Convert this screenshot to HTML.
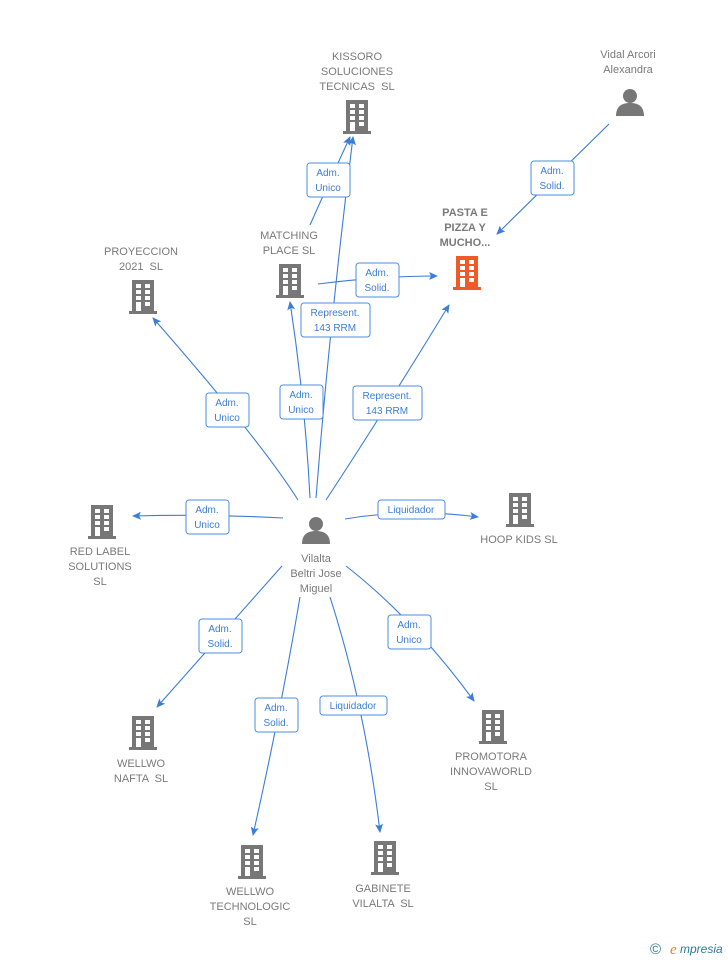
<!DOCTYPE html>
<html><head><meta charset="utf-8"><style>
html,body{margin:0;padding:0;background:#fff;}
svg{display:block;font-family:"Liberation Sans",Arial,sans-serif;}
text{white-space:pre;}
.n{fill:#7a7a7a;font-size:11px;text-anchor:middle;}
.b{fill:#7a7a7a;font-size:11px;text-anchor:middle;font-weight:bold;}
.l{fill:#3b7dd8;font-size:10px;text-anchor:middle;}
.e{stroke:#3b7dd8;stroke-width:1.1;fill:none;}
.bx{fill:#fff;stroke:#4a8ce0;stroke-width:1;}
</style></head><body>
<svg width="728" height="960" viewBox="0 0 728 960" xmlns="http://www.w3.org/2000/svg">
<defs>
<symbol id="bld" viewBox="-14 -18 28 36" overflow="visible">
<rect x="-11" y="-17" width="22" height="32" fill="currentColor"/>
<rect x="-14" y="14" width="28" height="3" fill="currentColor"/>
<g fill="#fff">
<rect x="-7" y="-13" width="5" height="4"/><rect x="2" y="-13" width="5" height="4"/>
<rect x="-7" y="-7" width="5" height="4"/><rect x="2" y="-7" width="5" height="4"/>
<rect x="-7" y="-1" width="5" height="4"/><rect x="2" y="-1" width="5" height="4"/>
<rect x="-7" y="5" width="5" height="9"/><rect x="2" y="5" width="5" height="4"/>
</g>
</symbol>
<symbol id="per" viewBox="-14 -15 28 30" overflow="visible">
<circle cx="0" cy="-6" r="7" fill="#777"/>
<path d="M-14 14 C-14 4 -8 1 0 1 C8 1 14 4 14 14 Z" fill="#777"/>
</symbol>
<marker id="ar" markerWidth="10" markerHeight="10" refX="8" refY="5" orient="auto" markerUnits="userSpaceOnUse">
<path d="M0 1 L9 5 L0 9 L2 5 Z" fill="#3b7dd8"/>
</marker>
</defs>

<path class="e" marker-end="url(#ar)" d="M298 500 Q260 440 153 318"/>
<path class="e" marker-end="url(#ar)" d="M310 498 Q305 400 290 302"/>
<path class="e" marker-end="url(#ar)" d="M316 498 Q330 320 353 137"/>
<path class="e" marker-end="url(#ar)" d="M310 225 Q330 180 350 137"/>
<path class="e" marker-end="url(#ar)" d="M318 284 Q380 276 437 276"/>
<path class="e" marker-end="url(#ar)" d="M326 500 Q385 410 449 305"/>
<path class="e" marker-end="url(#ar)" d="M609 124 L497 234"/>
<path class="e" marker-end="url(#ar)" d="M283 518 Q210 514 133 516"/>
<path class="e" marker-end="url(#ar)" d="M345 519 Q410 508 478 517"/>
<path class="e" marker-end="url(#ar)" d="M282 566 Q220 636 157 707"/>
<path class="e" marker-end="url(#ar)" d="M300 597 Q280 715 253 835"/>
<path class="e" marker-end="url(#ar)" d="M330 597 Q365 706 380 832"/>
<path class="e" marker-end="url(#ar)" d="M346 566 Q415 620 474 701"/>

<rect class="bx" x="206" y="393" width="43" height="34" rx="3"/><text class="l" x="227" y="406">Adm.</text><text class="l" x="227" y="421">Unico</text>
<rect class="bx" x="280" y="385" width="43" height="34" rx="3"/><text class="l" x="301" y="398">Adm.</text><text class="l" x="301" y="413">Unico</text>
<rect class="bx" x="353" y="386" width="69" height="34" rx="3"/><text class="l" x="387" y="399">Represent.</text><text class="l" x="387" y="414">143 RRM</text>
<rect class="bx" x="301" y="303" width="69" height="34" rx="3"/><text class="l" x="335" y="316">Represent.</text><text class="l" x="335" y="331">143 RRM</text>
<rect class="bx" x="307" y="163" width="43" height="34" rx="3"/><text class="l" x="328" y="176">Adm.</text><text class="l" x="328" y="191">Unico</text>
<rect class="bx" x="356" y="263" width="43" height="34" rx="3"/><text class="l" x="377" y="276">Adm.</text><text class="l" x="377" y="291">Solid.</text>
<rect class="bx" x="531" y="161" width="43" height="34" rx="3"/><text class="l" x="552" y="174">Adm.</text><text class="l" x="552" y="189">Solid.</text>
<rect class="bx" x="186" y="500" width="43" height="34" rx="3"/><text class="l" x="207" y="513">Adm.</text><text class="l" x="207" y="528">Unico</text>
<rect class="bx" x="378" y="500" width="67" height="19" rx="3"/><text class="l" x="411" y="513">Liquidador</text>
<rect class="bx" x="199" y="619" width="43" height="34" rx="3"/><text class="l" x="220" y="632">Adm.</text><text class="l" x="220" y="647">Solid.</text>
<rect class="bx" x="388" y="615" width="43" height="34" rx="3"/><text class="l" x="409" y="628">Adm.</text><text class="l" x="409" y="643">Unico</text>
<rect class="bx" x="255" y="698" width="43" height="34" rx="3"/><text class="l" x="276" y="711">Adm.</text><text class="l" x="276" y="726">Solid.</text>
<rect class="bx" x="320" y="696" width="67" height="19" rx="3"/><text class="l" x="353" y="709">Liquidador</text>

<g color="#777">
<use href="#bld" x="343" y="99" width="28" height="36"/>
<use href="#bld" x="129" y="279" width="28" height="36"/>
<use href="#bld" x="276" y="263" width="28" height="36"/>
<use href="#bld" x="88" y="504" width="28" height="36"/>
<use href="#bld" x="506" y="492" width="28" height="36"/>
<use href="#bld" x="129" y="715" width="28" height="36"/>
<use href="#bld" x="479" y="709" width="28" height="36"/>
<use href="#bld" x="238" y="844" width="28" height="36"/>
<use href="#bld" x="371" y="840" width="28" height="36"/>
</g>
<g color="#f05a28"><use href="#bld" x="453" y="255" width="28" height="36"/></g>
<use href="#per" x="616" y="87" width="28" height="30"/>
<use href="#per" x="302" y="515" width="28" height="30"/>

<text class="n" x="357" y="60">KISSORO</text><text class="n" x="357" y="75">SOLUCIONES</text><text class="n" x="357" y="90">TECNICAS  SL</text>
<text class="n" x="628" y="58">Vidal Arcori</text><text class="n" x="628" y="73">Alexandra</text>
<text class="b" x="465" y="216">PASTA E</text><text class="b" x="465" y="231">PIZZA Y</text><text class="b" x="465" y="246">MUCHO...</text>
<text class="n" x="141" y="255">PROYECCION</text><text class="n" x="141" y="270">2021  SL</text>
<text class="n" x="289" y="239">MATCHING</text><text class="n" x="289" y="254">PLACE SL</text>
<text class="n" x="100" y="555">RED LABEL</text><text class="n" x="100" y="570">SOLUTIONS</text><text class="n" x="100" y="585">SL</text>
<text class="n" x="519" y="543">HOOP KIDS SL</text>
<text class="n" x="316" y="562">Vilalta</text><text class="n" x="316" y="577">Beltri Jose</text><text class="n" x="316" y="592">Miguel</text>
<text class="n" x="141" y="767">WELLWO</text><text class="n" x="141" y="782">NAFTA  SL</text>
<text class="n" x="491" y="760">PROMOTORA</text><text class="n" x="491" y="775">INNOVAWORLD</text><text class="n" x="491" y="790">SL</text>
<text class="n" x="250" y="895">WELLWO</text><text class="n" x="250" y="910">TECHNOLOGIC</text><text class="n" x="250" y="925">SL</text>
<text class="n" x="383" y="892">GABINETE</text><text class="n" x="383" y="907">VILALTA  SL</text>

<text x="650" y="954" font-size="15" fill="#2a7a9a">©</text>
<text x="670" y="954" font-size="15" fill="#f08020" font-style="italic" font-family="Liberation Serif,serif">e</text>
<text x="680" y="953" font-size="12" fill="#2a7a9a" font-style="italic">mpresia</text>
</svg>
</body></html>
